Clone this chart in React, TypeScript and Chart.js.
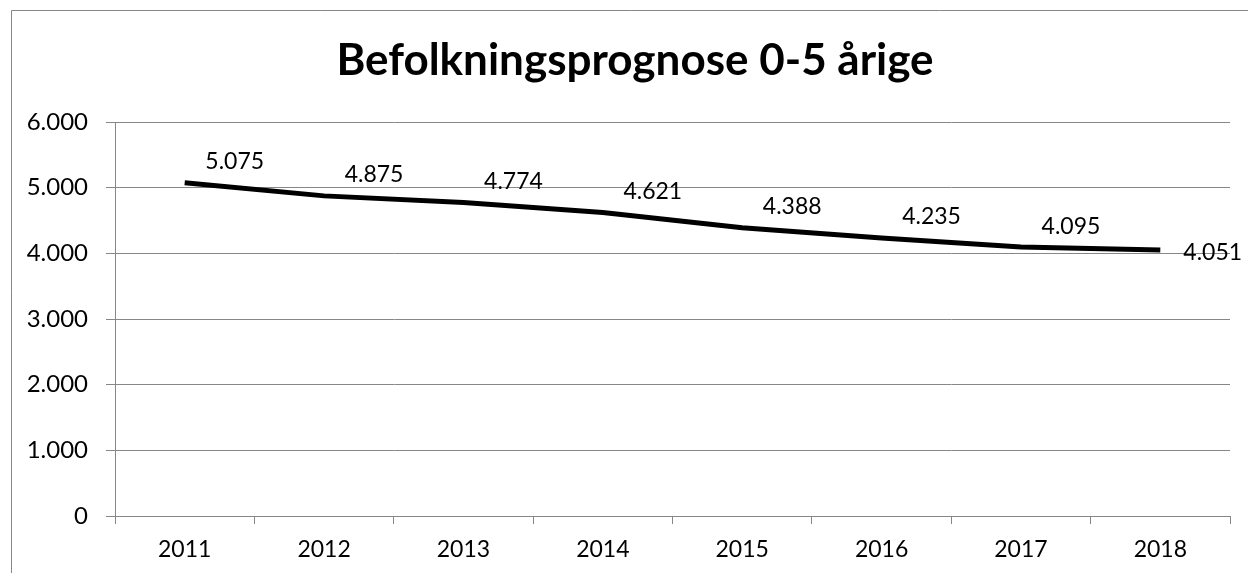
import React, { useEffect, useRef } from "react";
import { Chart, registerables } from "chart.js";

Chart.register(...registerables);

const TITLE = "Befolkningsprognose 0-5 årige";
const YEARS = ["2011", "2012", "2013", "2014", "2015", "2016", "2017", "2018"];
const VALUES = [5075, 4875, 4774, 4621, 4388, 4235, 4095, 4051];
const Y_MIN = 0;
const Y_MAX = 6000;
const Y_STEP = 1000;

const FONT = "Lato, 'Open Sans', sans-serif";
const GRID = "#878787";

function fmt(v: number): string {
  const s = Math.round(v).toString();
  return s.replace(/\B(?=(\d{3})+(?!\d))/g, ".");
}

const framePlugin = {
  id: "frame",
  beforeDraw(chart: any) {
    const ctx = chart.ctx;
    ctx.save();
    ctx.fillStyle = "#ffffff";
    ctx.fillRect(0, 0, chart.width, chart.height);
    ctx.strokeStyle = GRID;
    ctx.lineWidth = 1;
    ctx.beginPath();
    ctx.moveTo(11.5, chart.height + 2);
    ctx.lineTo(11.5, 10.5);
    ctx.lineTo(chart.width + 2, 10.5);
    ctx.stroke();
    // title
    ctx.fillStyle = "#000";
    ctx.font = `bold 44px ${FONT}`;
    ctx.textAlign = "center";
    ctx.textBaseline = "alphabetic";
    ctx.fillText(TITLE, 635, 75);
    ctx.restore();
  },
  afterDatasetsDraw(chart: any) {
    const ctx = chart.ctx;
    const meta = chart.getDatasetMeta(0);
    ctx.save();
    ctx.fillStyle = "#000";
    ctx.font = `23px ${FONT}`;
    ctx.textBaseline = "middle";
    meta.data.forEach((pt: any, i: number) => {
      const last = i === meta.data.length - 1;
      const txt = fmt(VALUES[i]);
      if (last) {
        ctx.textAlign = "left";
        ctx.fillText(txt, pt.x + 23, pt.y + 3);
      } else {
        ctx.textAlign = "center";
        ctx.fillText(txt, pt.x + 50, pt.y - 21);
      }
    });
    ctx.restore();
  },
};

export default function App() {
  const ref = useRef<HTMLCanvasElement | null>(null);
  useEffect(() => {
    document.body.style.margin = "0";
    const canvas = ref.current!;
    const chart = new Chart(canvas, {
      type: "line",
      data: {
        labels: YEARS,
        datasets: [
          {
            data: VALUES,
            borderColor: "#000",
            borderWidth: 5,
            pointRadius: 0,
            pointHoverRadius: 0,
            tension: 0,
            fill: false,
          },
        ],
      },
      options: {
        animation: false,
        responsive: false,
        devicePixelRatio: 1,
        layout: { padding: { top: 122, right: 18, bottom: 0, left: 0 } },
        plugins: {
          legend: { display: false },
          title: { display: false },
          tooltip: { enabled: false },
        },
        scales: {
          x: {
            offset: true,
            grid: {
              offset: true,
              drawOnChartArea: false,
              drawTicks: true,
              tickLength: 8,
              color: GRID,
            },
            border: { display: true, color: GRID, width: 1 },
            ticks: {
              color: "#000",
              font: { family: FONT, size: 23 },
              padding: 12,
              maxRotation: 0,
              autoSkip: false,
            },
            afterFit(scale: any) {
              scale.height = 57;
            },
          },
          y: {
            min: Y_MIN,
            max: Y_MAX,
            ticks: {
              stepSize: Y_STEP,
              color: "#000",
              font: { family: FONT, size: 24 },
              padding: 18,
              callback: (v: any) => fmt(Number(v)),
            },
            grid: {
              color: GRID,
              tickLength: 9,
              drawTicks: true,
            },
            border: { display: true, color: GRID, width: 1 },
            afterFit(scale: any) {
              scale.width = 115;
            },
          },
        },
      },
      plugins: [framePlugin],
    });
    return () => chart.destroy();
  }, []);
  return (
    <div style={{ width: 1248, height: 573 }}>
      <canvas ref={ref} width={1248} height={573} style={{ display: "block" }} />
    </div>
  );
}
